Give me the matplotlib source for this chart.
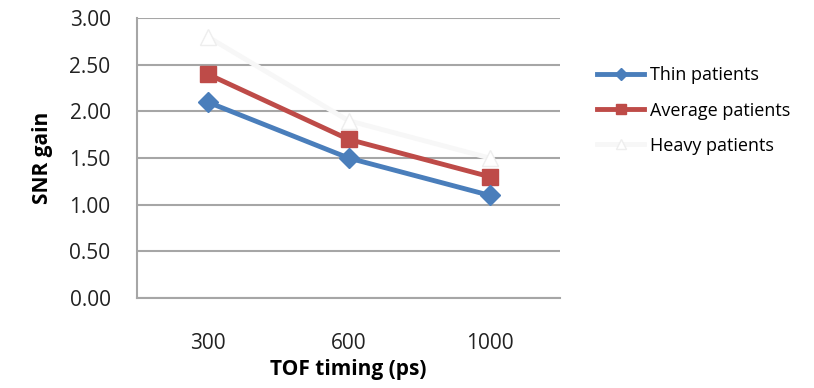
import matplotlib.pyplot as plt

plt.rcParams['font.family'] = ['Open Sans', 'DejaVu Sans']

# TOF timing categories and SNR gain per patient group
timing = ["300", "600", "1000"]
thin = [2.1, 1.5, 1.1]
average = [2.4, 1.7, 1.3]
heavy = [2.8, 1.9, 1.5]

fig = plt.figure(figsize=(8.14, 3.88), dpi=100)
ax = fig.add_axes([0.1683, 0.232, 0.5197, 0.7216])

x = range(len(timing))
ax.plot(x, thin, color="#4a7ebb", lw=3.5, marker="D", ms=10,
        label="Thin patients", zorder=4)
ax.plot(x, average, color="#be4b48", lw=3.5, marker="s", ms=12,
        label="Average patients", zorder=3)
ax.plot(x, heavy, color="#f7f7f7", lw=3.5, marker="^", ms=12,
        mfc="white", mec="#eeeeee", label="Heavy patients", zorder=2)

ax.set_xlim(-0.5, 2.5)
ax.set_ylim(0, 3.0)
ax.set_yticks([0, 0.5, 1.0, 1.5, 2.0, 2.5, 3.0])
ax.set_yticklabels([f"{v:.2f}" for v in ax.get_yticks()])
ax.set_xticks(list(x))
ax.set_xticklabels(timing)

ax.grid(axis="y", color="#a6a6a6", lw=1.5)
ax.set_axisbelow(True)
for side in ["top", "right"]:
    ax.spines[side].set_visible(False)
ax.spines["left"].set_color("#a6a6a6")
ax.spines["left"].set_linewidth(1.5)
ax.spines["bottom"].set_color("#a6a6a6")
ax.spines["bottom"].set_linewidth(1.5)
ax.tick_params(axis="y", length=0, labelsize=15, pad=19, labelcolor="#222222")
ax.tick_params(axis="x", length=0, labelsize=15, pad=25, labelcolor="#222222")

ax.set_xlabel("TOF timing (ps)", fontsize=15, fontweight="bold", labelpad=4)
ax.set_ylabel("SNR gain", fontsize=15, fontweight="bold", labelpad=12)

ax.legend(loc="upper left", bbox_to_anchor=(1.05, 0.885), frameon=False,
          fontsize=13, handlelength=2.6, labelspacing=0.95, handletextpad=0.3,
          markerscale=0.6)

fig.savefig("out.png", dpi=100)
